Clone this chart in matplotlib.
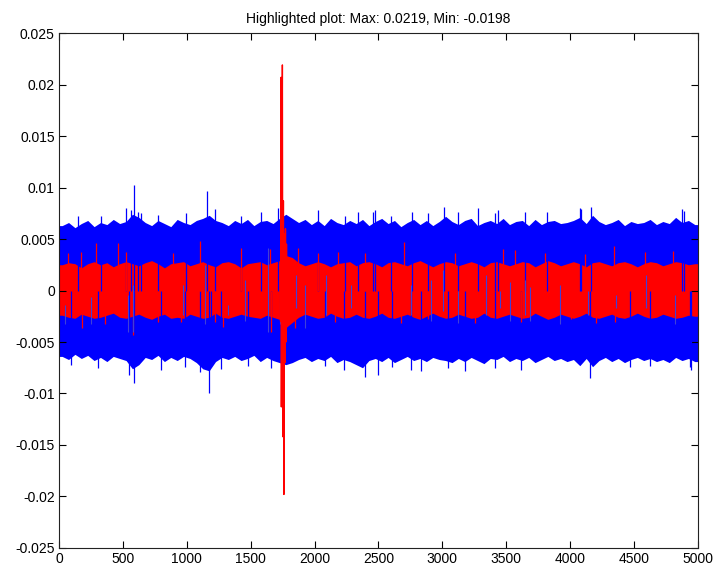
import numpy as np
import matplotlib
matplotlib.use("Agg")
import matplotlib.pyplot as plt

# per-50-sample envelope of the two traces (units of 1e-3)
bin_width = 50
blue_hi = [
    6.3, 6.6, 6.1, 6.5, 6.8, 6.2, 6.6, 6.4, 6.9, 6.5,
    6.7, 7.4, 7.1, 6.6, 6.3, 6.8, 6.5, 6.2, 6.9, 6.6,
    6.4, 6.8, 7.0, 7.3, 6.8, 6.6, 6.3, 6.8, 6.5, 6.9,
    6.3, 6.7, 6.8, 6.5, 7.0, 7.4, 7.0, 6.6, 6.9, 6.4,
    6.8, 6.3, 7.0, 6.6, 6.4, 6.8, 6.5, 6.9, 6.3, 6.7,
    7.0, 6.5, 6.8, 6.2, 6.6, 6.9, 6.4, 6.8, 6.3, 6.7,
    7.2, 6.7, 6.4, 6.8, 7.0, 6.3, 6.6, 6.8, 6.5, 7.0,
    6.4, 6.7, 6.8, 6.3, 6.9, 6.4, 6.7, 6.8, 6.5, 6.6,
    6.8, 7.1, 6.5, 7.3, 6.7, 6.4, 6.6, 6.9, 6.3, 6.7,
    6.5, 6.6, 6.9, 6.4, 6.7, 6.5, 7.1, 6.6, 6.8, 6.4,
]
blue_lo = [
    -6.4, -6.7, -6.2, -6.6, -6.3, -6.8, -6.5, -6.9, -6.4, -6.6,
    -6.8, -7.6, -7.2, -6.5, -6.7, -6.3, -6.9, -6.5, -6.8, -6.4,
    -6.6, -7.0, -7.6, -7.8, -6.9, -6.5, -6.7, -6.4, -6.8, -6.6,
    -6.3, -6.9, -6.5, -6.8, -7.0, -7.2, -7.0, -6.7, -6.5, -6.9,
    -6.6, -6.8, -6.4, -7.0, -6.7, -6.9, -7.2, -7.5, -6.8, -6.6,
    -6.9, -6.5, -7.0, -6.7, -6.4, -6.8, -6.6, -6.9, -6.5, -6.7,
    -6.8, -7.0, -6.6, -6.9, -6.5, -6.8, -7.1, -6.6, -6.7, -6.4,
    -6.9, -6.6, -6.8, -6.5, -7.0, -6.7, -6.4, -6.8, -6.6, -6.9,
    -6.7, -7.3, -6.6, -7.4, -6.8, -6.5, -6.9, -6.6, -7.0, -6.7,
    -6.5, -6.8, -6.6, -6.9, -6.7, -7.0, -6.5, -6.8, -6.6, -6.9,
]
red_hi = [
    2.5, 2.7, 2.6, 2.2, 2.6, 2.8, 2.5, 2.7, 2.3, 2.6,
    2.8, 2.6, 2.4, 2.7, 2.9, 2.6, 2.2, 2.6, 2.7, 2.8,
    2.4, 2.6, 2.8, 2.5, 2.3, 2.7, 2.8, 2.6, 2.2, 2.6,
    2.7, 2.8, 2.5, 2.7, 2.9, 3.4, 3.2, 2.7, 2.4, 2.6,
    2.8, 2.6, 2.3, 2.6, 2.7, 2.8, 2.4, 2.7, 2.8, 2.6,
    2.3, 2.7, 2.8, 2.6, 2.4, 2.7, 2.9, 2.6, 2.3, 2.6,
    2.8, 2.7, 2.4, 2.6, 2.8, 2.6, 2.3, 2.7, 2.8, 2.6,
    2.4, 2.6, 2.8, 2.7, 2.3, 2.6, 2.9, 2.7, 2.4, 2.6,
    2.8, 2.6, 2.3, 2.7, 2.8, 2.6, 2.4, 2.7, 2.8, 2.6,
    2.3, 2.6, 2.8, 2.7, 2.4, 2.6, 2.8, 2.7, 2.5, 2.6,
]
red_lo = [
    -2.4, -2.6, -2.7, -2.3, -2.5, -2.7, -2.6, -2.4, -2.2, -2.6,
    -2.7, -2.5, -2.3, -2.6, -2.8, -2.5, -2.3, -2.7, -2.6, -2.7,
    -2.3, -2.5, -2.7, -2.6, -2.2, -2.6, -2.7, -2.5, -2.3, -2.5,
    -2.6, -2.7, -2.4, -2.6, -2.8, -3.6, -3.1, -2.6, -2.3, -2.5,
    -2.7, -2.6, -2.2, -2.5, -2.7, -2.6, -2.3, -2.6, -2.7, -2.5,
    -2.2, -2.6, -2.7, -2.5, -2.3, -2.6, -2.8, -2.5, -2.2, -2.5,
    -2.7, -2.6, -2.3, -2.5, -2.7, -2.6, -2.2, -2.6, -2.7, -2.5,
    -2.3, -2.5, -2.7, -2.6, -2.2, -2.5, -2.8, -2.6, -2.3, -2.5,
    -2.7, -2.5, -2.2, -2.6, -2.7, -2.5, -2.3, -2.6, -2.7, -2.5,
    -2.2, -2.5, -2.7, -2.6, -2.3, -2.5, -2.7, -2.6, -2.4, -2.5,
]

# isolated excursions (sample, value*1e3)
blue_spike_x = [525, 545, 560, 587, 587, 620, 1100, 1158, 1170, 1268, 1714,
                2392, 2470, 2496, 2754, 3012, 4085, 4155, 4163, 4890, 4945,
                3279, 3412, 3816, 4077, 4873, 4468, 4624, 4937,
                149, 329, 642, 775, 994, 1218, 94, 305, 798, 983, 1189,
                1424, 1581, 2027, 2236, 2340, 2457, 1479, 1659, 2079, 2230,
                2598, 2760, 2887, 3122, 3436, 3645, 2605, 2833, 3044, 3175,
                3410, 3615]
blue_spike_y = [8.0, -8.2, 7.8, 10.2, -9.0, 7.6, -7.9, 9.7, -10.0, -7.6, 8.0,
                -8.4, 7.8, -8.2, -7.7, 8.1, 7.9, -8.5, 8.1, 7.7, -7.7,
                8.0, 7.5, 7.6, 8.0, 7.9, -7.4, -7.3, -7.4,
                7.2, 7.2, 7.5, 7.3, 7.5, 7.9, -7.2, -7.5, -7.7, -7.4, -7.2,
                7.2, 7.6, 7.8, 7.2, 7.6, 7.6, -7.3, -7.5, -7.3, -7.7,
                7.2, 7.6, 7.5, 7.6, 7.8, 7.6, -7.4, -7.8, -7.5, -7.8,
                -7.5, -7.7]

# blue segments that cut across the red band (sample, from, to)
cross_x = [44, 253, 540, 579, 970, 1140, 1322, 1453, 1636, 1727, 1854, 1922,
           2089, 2285, 2754, 2911, 3005, 3122, 3341, 3451, 3529, 3646, 3686,
           3918, 4139, 4358, 4593, 4817]
cross_lo = [-3.3, -3.3, -4.0, -4.0, -2.4, -3.3, -2.4, -3.0, -4.0, -3.3, -1.7,
            -3.6, -2.4, -1.7, -2.4, -3.0, -2.0, -3.2, -2.4, -1.7, -3.0, -2.4,
            -3.0, -3.3, -2.4, -1.7, -1.7, -3.3]
cross_hi = [-1.4, -0.6, -0.4, 0.5, 0.5, 2.5, -1.4, 1.0, 4.1, 0.5, 1.5, 0.5,
            1.5, 0.5, 0.5, 1.0, 2.0, 0.0, 1.5, 0.0, 0.8, 1.0, 0.3,
            0.5, 0.0, -0.4, 1.5, -0.4]

red_spike_x = [70, 170, 180, 287, 357, 462, 525, 579, 775, 892, 955, 1103,
               1218, 1283, 1427, 1649, 1659, 1844, 1870, 2027, 2157, 2183,
               2392, 2676, 2699, 2887, 3096, 3253, 3474, 3566, 3615, 3800,
               4006, 4113, 4202, 4343, 4348, 4583, 4804]
red_spike_y = [3.6, 3.7, -3.6, 4.6, -3.3, 4.6, 3.7, -4.3, -3.1, 3.6, -3.1, 4.8,
               -3.1, -3.5, 4.1, 4.0, -4.0, -3.6, 4.1, 3.6, -3.1, 3.7,
               3.6, -3.2, 4.7, -2.8, 3.6, -3.2, 4.0, 3.9, -3.1, 3.6,
               -2.8, 3.5, -3.2, 4.3, -3.1, 3.7, 3.8]

# the burst around sample 1750
burst_x = [1730, 1734, 1738, 1740, 1744, 1748, 1752, 1756, 1760, 1764,
           1768, 1772, 1776, 1780, 1786, 1792]
burst_y = [2.5, -3.0, 20.7, -11.3, 6.0, 21.9, -14.2, 8.7, -19.8, 5.5,
           -7.0, 6.0, -5.0, 4.5, -3.5, 2.5]

title = "Highlighted plot: Max: 0.0219, Min: -0.0198"

plt.rcParams['font.family'] = ['Liberation Sans', 'DejaVu Sans']
fig = plt.figure(figsize=(7.13, 5.70), dpi=100)
ax = fig.add_axes([0.0827, 0.0386, 0.8963, 0.9035])

s = 1e-3
centers = np.arange(len(blue_hi)) * bin_width + bin_width / 2
xs = np.concatenate([[0], centers, [5000]])


def ends(v):
    v = np.asarray(v) * s
    return np.concatenate([[v[0]], v, [v[-1]]])


ax.fill_between(xs, ends(blue_lo), ends(blue_hi), color='#0000ff', lw=0)
ax.vlines(blue_spike_x, 0, np.array(blue_spike_y) * s, color='#0000ff', lw=0.9)
ax.fill_between(xs, ends(red_lo), ends(red_hi), color='#ff0000', lw=0)
ax.vlines(red_spike_x, 0, np.array(red_spike_y) * s, color='#ff0000', lw=0.9)
ax.vlines(cross_x, np.array(cross_lo) * s, np.array(cross_hi) * s,
          color='#4040d8', lw=0.8)
ax.plot(burst_x, np.array(burst_y) * s, color='#ff0000', lw=1.0)

ax.set_xlim(0, 5000)
ax.set_ylim(-0.025, 0.025)
ax.set_xticks(np.arange(0, 5001, 500))
yt = np.arange(-0.025, 0.0251, 0.005)
ax.set_yticks(yt)
ax.set_yticklabels(['%g' % round(v, 3) for v in yt])
ax.tick_params(direction='in', top=True, right=True, length=4.7, width=0.8,
               labelsize=10, colors='black', pad=3)
for sp in ax.spines.values():
    sp.set_linewidth(0.8)
    sp.set_color('#222222')
ax.set_title(title, fontsize=10, pad=7)

fig.savefig('out.png', dpi=100)
